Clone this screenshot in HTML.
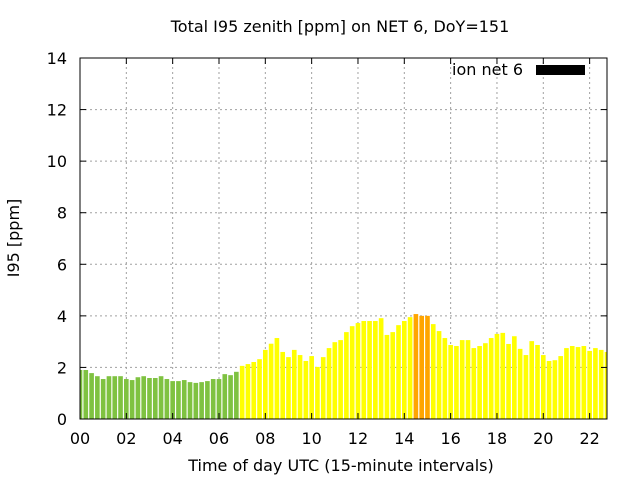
<!DOCTYPE html>
<html><head><meta charset="utf-8"><style>
body{margin:0;background:#fff;}
svg text{font-family:"DejaVu Sans","Liberation Sans",sans-serif;}
</style></head><body>
<svg id="chart" width="640" height="480" xmlns="http://www.w3.org/2000/svg">
<defs><clipPath id="pc"><rect x="80" y="58" width="527" height="361"/></clipPath></defs>
<rect width="640" height="480" fill="#fff"/>
<text x="340" y="32" font-size="16" text-anchor="middle">Total I95 zenith [ppm] on NET 6, DoY=151</text>
<g id="grid"></g>
<g id="bars" clip-path="url(#pc)"></g>
<rect x="80" y="58" width="527" height="361" fill="none" stroke="#000" stroke-width="1"/>
<g id="axes"></g>
<text transform="translate(19,238) rotate(-90)" font-size="16" text-anchor="middle">I95 [ppm]</text>
<text x="341" y="471" font-size="16" text-anchor="middle">Time of day UTC (15-minute intervals)</text>
<g>
<text x="523" y="75" font-size="16" text-anchor="end">ion net 6</text>
<rect x="536" y="65" width="49" height="10" fill="#000"/>
</g>
</svg>
<script>
const values = [1.9,1.9,1.78,1.66,1.55,1.66,1.66,1.66,1.55,1.51,1.62,1.66,1.59,1.59,1.66,1.55,1.47,1.47,1.51,1.43,1.4,1.43,1.47,1.55,1.55,1.74,1.7,1.83,
2.06,2.13,2.21,2.32,2.68,2.92,3.14,2.6,2.4,2.68,2.48,2.25,2.44,2.02,2.4,2.75,2.98,3.06,
3.37,3.6,3.72,3.8,3.8,3.8,3.91,3.26,3.37,3.64,3.8,3.95,4.07,4.0,4.0,3.68,3.41,3.14,2.87,2.83,3.06,3.06,2.75,2.83,2.94,3.14,3.3,3.34,2.91,3.21,2.72,2.48,3.02,2.87,2.48,2.25,2.28,2.44,2.75,2.83,2.79,2.83,2.64,2.75,2.68,2.6];
const colorClass = ["g","g","g","g","g","g","g","g","g","g","g","g","g","g","g","g","g","g","g","g","g","g","g","g","g","g","g","g"];
const xTicks = ["00","02","04","06","08","10","12","14","16","18","20","22"];
const yTicks = [0,2,4,6,8,10,12,14];
const X0=80,X1=607,Y0=419,Y1=58,HMAX=22.75,VMAX=14;
const NS="http://www.w3.org/2000/svg";
function xs(h){return X0+(h/HMAX)*(X1-X0);}
function ys(v){return Y0-(v/VMAX)*(Y0-Y1);}
function mk(t,a,p){const e=document.createElementNS(NS,t);for(const k in a)e.setAttribute(k,a[k]);p.appendChild(e);return e;}
const grid=document.getElementById('grid'),axes=document.getElementById('axes'),bars=document.getElementById('bars');
yTicks.forEach(v=>{const y=ys(v);
 if(v>0&&v<VMAX){const l=mk('line',{x1:X0,x2:X1,y1:y,y2:y,stroke:'#a0a0a0','stroke-dasharray':'2,3'},grid);
 
 }
 mk('line',{x1:X0,x2:X0+6,y1:y,y2:y,stroke:'#000'},axes);
 mk('line',{x1:X1,x2:X1-6,y1:y,y2:y,stroke:'#000'},axes);
 const t=mk('text',{x:X0-13,y:y+6,'font-size':16,'text-anchor':'end'},axes);t.textContent=v;
 
 
});
xTicks.forEach(s=>{const h=parseInt(s,10);const x=xs(h);
 if(h>0){const l=mk('line',{x1:x,x2:x,y1:Y0,y2:Y1,stroke:'#a0a0a0','stroke-dasharray':'2,3'},grid);
 
 }
 mk('line',{x1:x,x2:x,y1:Y0,y2:Y0-6,stroke:'#000'},axes);
 mk('line',{x1:x,x2:x,y1:Y1,y2:Y1+6,stroke:'#000'},axes);
 const t=mk('text',{x:x,y:Y0+25,'font-size':16,'text-anchor':'middle'},axes);t.textContent=s;
 
 
});
const bw=(xs(0.25)-xs(0))*0.8;
values.forEach((v,i)=>{const h=i*0.25;const x=xs(h);
 const c=i<colorClass.length?'#7fc241':(v>=3.98?'#ffa500':'#ffff00');
 const r=mk('rect',{x:x-bw/2,y:ys(v),width:bw,height:Y0-ys(v),fill:c},bars);
 
 
});
</script>
</body></html>
